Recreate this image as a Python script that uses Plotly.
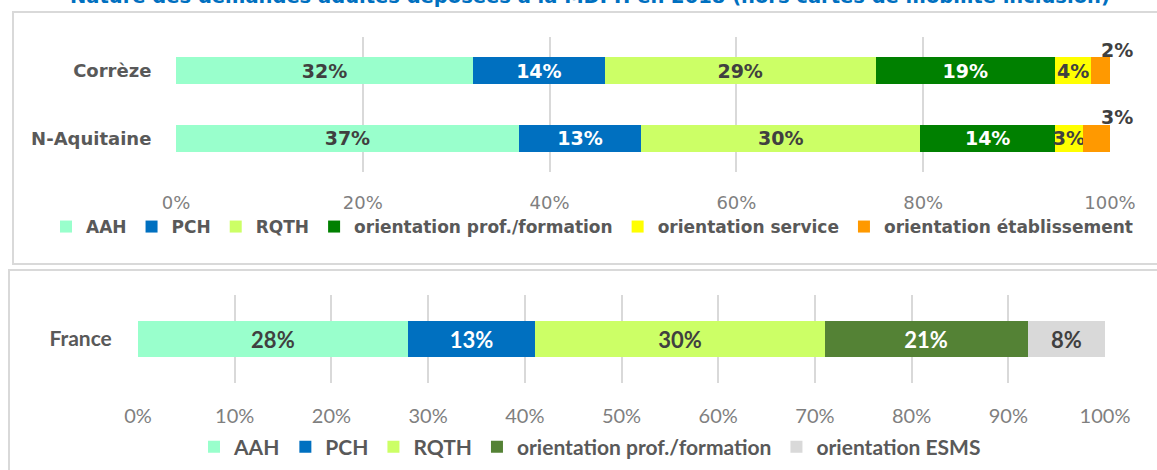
import plotly.graph_objects as go

W, H = 1157, 470

# ---------------- data ----------------
title_text = "Nature des demandes adultes déposées à la MDPH en 2018 (hors cartes de mobilité inclusion)"

top_categories = ["Corrèze", "N-Aquitaine"]
top_series = ["AAH", "PCH", "RQTH", "orientation prof./formation",
              "orientation service", "orientation établissement"]
top_aah = [31.8, 36.7]
top_pch = [14.1, 13.1]
top_rqth = [29.0, 29.9]
top_prof = [19.2, 14.4]
top_service = [3.9, 3.0]
top_etab = [2.0, 2.9]

bottom_categories = ["France"]
bottom_series = ["AAH", "PCH", "RQTH", "orientation prof./formation", "orientation ESMS"]
fr_aah = [27.9]
fr_pch = [13.2]
fr_rqth = [29.9]
fr_prof = [21.0]
fr_esms = [8.0]

top_ticks = [0, 20, 40, 60, 80, 100]
bottom_ticks = [0, 10, 20, 30, 40, 50, 60, 70, 80, 90, 100]

# ---------------- styles ----------------
top_colors = ["#99FFCC", "#0070C0", "#CCFF66", "#008000", "#FFFF00", "#FF9900"]
top_text_colors = ["#404040", "#FFFFFF", "#404040", "#FFFFFF", "#404040", "#404040"]
bottom_colors = ["#99FFCC", "#0070C0", "#CCFF66", "#548235", "#D9D9D9"]
bottom_text_colors = ["#404040", "#FFFFFF", "#404040", "#FFFFFF", "#404040"]

TOP_FONT = "DejaVu Sans"
BOT_FONT = "Lato"
GRID = "#D9D9D9"
LABEL = "#595959"
TICK = "#7F7F7F"


def px_x(p):
    return p / W


def px_y(p):
    return 1 - p / H


fig = go.Figure()

top_values = [top_aah, top_pch, top_rqth, top_prof, top_service, top_etab]
for i, (name, vals) in enumerate(zip(top_series, top_values)):
    is_last = i == len(top_series) - 1
    fig.add_trace(go.Bar(
        x=vals, y=top_categories, name=name, orientation="h",
        marker=dict(color=top_colors[i], line=dict(width=0)),
        texttemplate="%{x:.0f}%",
        textposition="none" if is_last else "inside",
        insidetextanchor="middle", textangle=0, constraintext="none",
        textfont=dict(family=TOP_FONT, size=19, color=top_text_colors[i], weight="bold"),
        xaxis="x", yaxis="y", legend="legend", hoverinfo="skip",
    ))

# labels of the small last segment, placed above the bar end (as in the original)
for j, cat in enumerate(top_categories):
    total = sum(v[j] for v in top_values)
    fig.add_annotation(
        x=total, y=cat, xref="x", yref="y", text=f"{top_etab[j]:.0f}%",
        showarrow=False, xanchor="center", yanchor="middle", xshift=7, yshift=21,
        font=dict(family=TOP_FONT, size=19, color="#404040", weight="bold"),
    )

bottom_values = [fr_aah, fr_pch, fr_rqth, fr_prof, fr_esms]
for i, (name, vals) in enumerate(zip(bottom_series, bottom_values)):
    fig.add_trace(go.Bar(
        x=vals, y=bottom_categories, name=name, orientation="h",
        marker=dict(color=bottom_colors[i], line=dict(width=0)),
        texttemplate="%{x:.0f}%", textposition="inside",
        insidetextanchor="middle", textangle=0, constraintext="none",
        textfont=dict(family=BOT_FONT, size=22, color=bottom_text_colors[i], weight="bold"),
        xaxis="x2", yaxis="y2", legend="legend2", hoverinfo="skip",
    ))

# title (cut off at the top of the picture, as in the original)
fig.add_annotation(
    x=px_x(590), y=1 + 3.8 / H, xref="paper", yref="paper", text=title_text,
    showarrow=False, xanchor="center", yanchor="middle",
    font=dict(family=TOP_FONT, size=19.5, color="#0070C0", weight="bold"),
)

# panel borders
fig.add_shape(type="rect", xref="paper", yref="paper",
              x0=px_x(13), x1=1.05, y0=px_y(264), y1=px_y(12),
              line=dict(color=GRID, width=2), fillcolor="rgba(0,0,0,0)", layer="below")
fig.add_shape(type="rect", xref="paper", yref="paper",
              x0=px_x(9), x1=1.05, y0=-0.1, y1=px_y(270),
              line=dict(color=GRID, width=2), fillcolor="rgba(0,0,0,0)", layer="below")

fig.update_layout(
    width=W, height=H, autosize=False,
    margin=dict(l=0, r=0, t=0, b=0, pad=0, autoexpand=False),
    paper_bgcolor="white", plot_bgcolor="white",
    barmode="stack", bargap=0.6,
    showlegend=True,
    xaxis=dict(
        domain=[px_x(176), px_x(1110)], range=[0, 100], automargin=False,
        tickvals=top_ticks, ticktext=[f"{t}%" for t in top_ticks],
        showgrid=True, gridcolor=GRID, gridwidth=2, zeroline=False,
        showline=False, ticks="outside", ticklen=14, tickcolor="rgba(0,0,0,0)",
        tickfont=dict(family=TOP_FONT, size=18, color=TICK),
        anchor="y", fixedrange=True,
    ),
    yaxis=dict(
        domain=[px_y(172), px_y(37)], type="category", automargin=False,
        categoryorder="array", categoryarray=top_categories[::-1],
        range=[-0.5, 1.5], showgrid=False, zeroline=False, showline=False,
        ticks="outside", ticklen=20, tickcolor="rgba(0,0,0,0)",
        tickfont=dict(family=TOP_FONT, size=18, color=LABEL, weight="bold"),
        anchor="x", fixedrange=True,
    ),
    xaxis2=dict(
        domain=[px_x(138), px_x(1105)], range=[0, 100], automargin=False,
        tickvals=bottom_ticks, ticktext=[f"{t}%" for t in bottom_ticks],
        showgrid=True, gridcolor=GRID, gridwidth=2, zeroline=False,
        showline=False, ticks="outside", ticklen=15, tickcolor="rgba(0,0,0,0)",
        tickfont=dict(family=BOT_FONT, size=20, color=TICK),
        anchor="y2", fixedrange=True,
    ),
    yaxis2=dict(
        domain=[px_y(383), px_y(295)], type="category", automargin=False,
        range=[-0.5, 0.5], showgrid=False, zeroline=False, showline=False,
        ticks="outside", ticklen=21, tickcolor="rgba(0,0,0,0)",
        tickfont=dict(family=BOT_FONT, size=21, color=LABEL, weight="bold"),
        anchor="x2", fixedrange=True,
    ),
    legend=dict(
        orientation="h", x=px_x(592), xanchor="center", y=px_y(227), yanchor="middle",
        font=dict(family=TOP_FONT, size=17, color=LABEL, weight="bold"),
        bgcolor="rgba(0,0,0,0)", traceorder="normal", itemclick=False,
    ),
    legend2=dict(
        orientation="h", x=px_x(590), xanchor="center", y=px_y(447), yanchor="middle",
        font=dict(family=BOT_FONT, size=21, color=LABEL, weight="bold"),
        bgcolor="rgba(0,0,0,0)", traceorder="normal", itemclick=False,
    ),
)

fig.write_html(
    "out.html",
    config={"responsive": False, "displayModeBar": False},
    post_script="document.body.style.margin='0';document.body.style.overflow='hidden';",
)
